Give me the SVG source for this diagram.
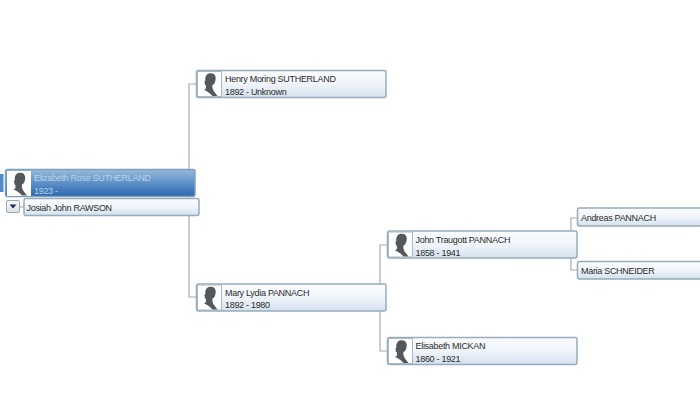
<svg xmlns="http://www.w3.org/2000/svg" xmlns:xlink="http://www.w3.org/1999/xlink" width="700" height="400" viewBox="0 0 700 400">
<style>
.box{fill:url(#card);stroke:#98acba;stroke-width:1.5}
.sel{fill:url(#cardSel);stroke:#7fa0bd;stroke-width:1.4}
.photo{fill:#fff;stroke:#a9b9c4;stroke-width:1}
.conn{fill:none;stroke:#a3adb4;stroke-width:1.2}
text{font-family:"Liberation Sans",Arial,sans-serif;font-size:9px;letter-spacing:-0.3px;fill:#2b2b2b}
.light{fill:#b9d2ea}
</style>
<defs>
<linearGradient id="card" x1="0" y1="0" x2="0" y2="1"><stop offset="0" stop-color="#fbfcfe"/><stop offset="0.5" stop-color="#f0f5fa"/><stop offset="1" stop-color="#d3e1ef"/></linearGradient>
<linearGradient id="cardSel" x1="0" y1="0" x2="0" y2="1"><stop offset="0" stop-color="#98badc"/><stop offset="0.5" stop-color="#5d90c6"/><stop offset="1" stop-color="#2a68ae"/></linearGradient>
<linearGradient id="btn" x1="0" y1="0" x2="0" y2="1"><stop offset="0" stop-color="#fdfdfd"/><stop offset="1" stop-color="#d9dfe5"/></linearGradient>
<symbol id="sil" viewBox="0 0 24 26" overflow="visible">
<path d="M9.500 3.500C11 1.800 14.500 1.800 16.500 3C18.500 5 18.500 8 17.800 10C17.500 12 16.500 13.500 15 14C14.500 16 15 18 16.500 20.500C18 22.500 19.500 24 20 25L15 25C13 22.500 9.500 20 6.500 19C8.500 18 9 16.500 8.300 14.500C7 13.500 7 12.500 7.500 12C6.500 11.500 6.800 10.500 7.800 9.500C7.500 7 8 5 9.500 3.500Z" fill="#55585a"/>
</symbol>
</defs>
<rect width="700" height="400" fill="#fff"/>
<g id="connectors" class="conn">
<path class="conn" d="M196 84H189V297H196"/>
<path class="conn" d="M387 245H380V351H387"/>
<path class="conn" d="M577 218H571V270H577"/>
</g>
<g id="node-henry">
<rect class="box" x="196.500" y="70.500" width="189.500" height="27" rx="2"/>
<rect class="photo" x="197.500" y="71.500" width="24" height="25"/>
<use xlink:href="#sil" href="#sil" x="197.500" y="71" width="24" height="26"/>
<text x="225" y="81.500">Henry Moring SUTHERLAND</text>
<text x="225" y="94.500">1892 - Unknown</text>
</g>
<g id="node-elizabeth">
<rect x="0" y="174" width="3.500" height="18" fill="#4f8cc9"/>
<rect class="sel" x="5.500" y="169.500" width="189.500" height="27" rx="2"/>
<rect x="7" y="171" width="24" height="25" fill="#fff"/>
<use xlink:href="#sil" href="#sil" x="7" y="170.500" width="24" height="26"/>
<text class="light" x="34" y="181">Elizabeth Rose SUTHERLAND</text>
<text class="light" x="34" y="193.500">1923 -</text>
</g>
<g id="node-josiah">
<path d="M19 207H24" class="conn"/>
<rect x="6.500" y="200.500" width="13" height="12" rx="1.500" fill="url(#btn)" stroke="#9aa5ad"/>
<path d="M9.500 204.500H16.500L13 208.500Z" fill="#1d2f5c"/>
<rect class="box" x="24" y="198.500" width="175" height="17" rx="2"/>
<text x="26.500" y="211" fill="#222">Josiah John RAWSON</text>
</g>
<g id="node-mary">
<rect class="box" x="196.500" y="284" width="189.500" height="27" rx="2"/>
<rect class="photo" x="197.500" y="285" width="24" height="25"/>
<use xlink:href="#sil" href="#sil" x="197.500" y="284.500" width="24" height="26"/>
<text x="225" y="295.500">Mary Lydia PANNACH</text>
<text x="225" y="308">1892 - 1980</text>
</g>
<g id="node-john">
<rect class="box" x="387.500" y="231" width="189.500" height="27" rx="2"/>
<rect class="photo" x="388.500" y="232" width="24" height="25"/>
<use xlink:href="#sil" href="#sil" x="388.500" y="231.500" width="24" height="26"/>
<text x="415.500" y="242.500">John Traugott PANNACH</text>
<text x="415.500" y="255.500">1858 - 1941</text>
</g>
<g id="node-elisabeth">
<rect class="box" x="387.500" y="337.500" width="189.500" height="27" rx="2"/>
<rect class="photo" x="388.500" y="338.500" width="24" height="25"/>
<use xlink:href="#sil" href="#sil" x="388.500" y="338" width="24" height="26"/>
<text x="415.500" y="349">Elisabeth MICKAN</text>
<text x="415.500" y="362">1860 - 1921</text>
</g>
<g id="node-andreas">
<rect class="box" x="577.500" y="208" width="130" height="18" rx="2"/>
<text x="581" y="221">Andreas PANNACH</text>
</g>
<g id="node-maria">
<rect class="box" x="577.500" y="261.500" width="130" height="17.500" rx="2"/>
<text x="581" y="274">Maria SCHNEIDER</text>
</g>
</svg>
